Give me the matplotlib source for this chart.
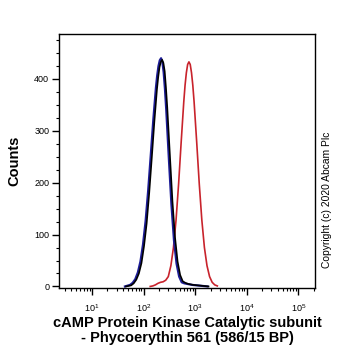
import numpy as np
import matplotlib
matplotlib.use("Agg")
import matplotlib.pyplot as plt
from matplotlib.ticker import LogLocator, MultipleLocator, NullFormatter

plt.rcParams['font.family'] = ['Liberation Sans', 'DejaVu Sans']

# histogram traces (log10 of fluorescence intensity, counts)
blue_log = [1.64, 1.74, 1.79, 1.84, 1.89, 1.94, 1.99, 2.04, 2.09, 2.14, 2.19, 2.24, 2.265, 2.29,
            2.315, 2.34, 2.365, 2.39, 2.415, 2.44, 2.49, 2.54, 2.59, 2.64, 2.69, 2.74, 2.79, 2.84,
            2.94, 3.04, 3.14, 3.24]
blue_cnt = [0, 3, 7, 14, 27, 48, 81, 126, 185, 253, 322, 383, 407, 425,
            436, 440, 433, 413, 381, 341, 248, 159, 89, 44, 19, 8, 6, 5,
            3, 2, 1, 0]

black_log = [1.66, 1.76, 1.81, 1.86, 1.91, 1.96, 2.01, 2.06, 2.11, 2.16, 2.21, 2.26, 2.285, 2.31,
             2.335, 2.36, 2.385, 2.41, 2.435, 2.46, 2.51, 2.56, 2.61, 2.66, 2.71, 2.76, 2.81, 2.86,
             2.96, 3.06, 3.16, 3.26]
black_cnt = [0, 2, 6, 13, 25, 45, 78, 121, 180, 248, 318, 380, 404, 423,
             433, 437, 431, 415, 383, 345, 255, 165, 95, 48, 22, 10, 7, 5,
             3, 2, 1, 0]

red_log = [2.13, 2.18, 2.23, 2.28, 2.33, 2.38, 2.43, 2.48, 2.53, 2.58, 2.63, 2.68, 2.73, 2.78,
           2.805, 2.83, 2.855, 2.88, 2.905, 2.93, 2.955, 2.98, 3.03, 3.08, 3.13, 3.18, 3.23,
           3.28, 3.33, 3.38, 3.43]
red_cnt = [0, 1, 3, 6, 8, 9, 12, 19, 40, 75, 128, 198, 279, 356,
           388, 412, 428, 433, 428, 412, 388, 356, 279, 198, 128, 75, 40,
           19, 8, 3, 1]

y_ticks = [0, 100, 200, 300, 400]
x_ticks = [1e1, 1e2, 1e3, 1e4, 1e5]

fig = plt.figure(figsize=(3.62, 3.51), dpi=100)
ax = fig.add_axes([0.163, 0.1795, 0.707, 0.724])

ax.plot(10 ** np.array(red_log), red_cnt, color='#c8232c', lw=1.2)
ax.plot(10 ** np.array(blue_log), blue_cnt, color='#1c1c96', lw=1.6)
ax.plot(10 ** np.array(black_log), black_cnt, color='#000000', lw=1.2)

ax.set_xscale('log')
ax.set_xlim(2.3, 2.1e5)
ax.set_ylim(-3, 487)

ax.set_xticks(x_ticks)
ax.xaxis.set_minor_locator(LogLocator(base=10, subs=np.arange(2, 10), numticks=20))
ax.xaxis.set_minor_formatter(NullFormatter())
ax.set_yticks(y_ticks)
ax.yaxis.set_minor_locator(MultipleLocator(25))

ax.tick_params(which='major', direction='out', length=5, width=1, labelsize=6.5, pad=2)
ax.tick_params(which='minor', direction='out', length=2.5, width=0.8)
ax.tick_params(axis='x', which='major', pad=5)

for s in ax.spines.values():
    s.set_linewidth(1)

ax.set_ylabel('Counts', fontsize=10.5, fontweight='bold', labelpad=9)
ax.set_xlabel('cAMP Protein Kinase Catalytic subunit\n- Phycoerythin 561 (586/15 BP)',
              fontsize=10.5, fontweight='bold', labelpad=2, linespacing=1.1)

fig.text(0.903, 0.43, 'Copyright (c) 2020 Abcam Plc', rotation=90,
         fontsize=7.4, ha='center', va='center')

fig.savefig('out.png', dpi=100)
